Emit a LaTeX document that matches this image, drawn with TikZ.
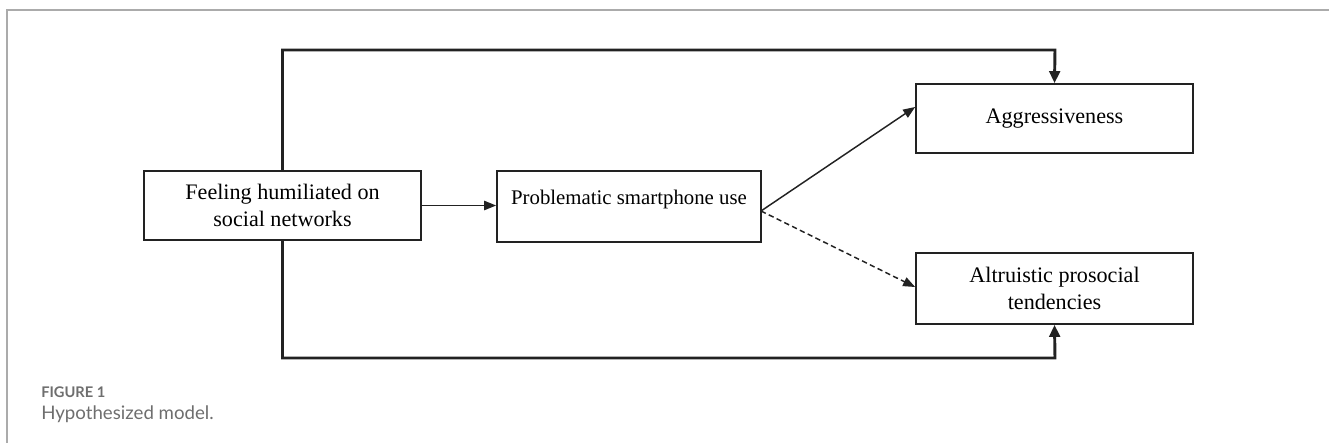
\documentclass[tikz,border=0pt]{standalone}
\usepackage{fontspec}
\setmainfont{Liberation Serif}
\newfontfamily\capfont{Lato}
\usetikzlibrary{arrows.meta}
\definecolor{framegray}{HTML}{ABABAB}
\definecolor{capgray}{HTML}{6E6E6E}
\definecolor{ink}{HTML}{222222}
\begin{document}
\begin{tikzpicture}[x=0.75pt,y=-0.75pt,
  box/.style={draw=ink,line width=1.3pt,rectangle,inner sep=0pt,align=center,font=\fontsize{16.6}{20.5}\selectfont},
  thin/.style={draw=ink,line width=1.1pt,-{Triangle[length=9pt,width=7pt]}},
  thick/.style={draw=ink,line width=2.2pt,-{Triangle[length=9pt,width=8pt]}},
  figlabel/.style={anchor=base west,inner sep=0pt,text=capgray,font=\fontsize{11}{13}\selectfont\capfont\bfseries},
  captext/.style={anchor=base west,inner sep=0pt,text=capgray,font=\fontsize{14}{16}\selectfont\capfont}]
\useasboundingbox (0,0) rectangle (1329,443);
\draw[framegray,line width=1.2pt] (7,443) -- (7,10) -- (1329,10);
% boxes
\node[box,minimum width=277*0.75pt,minimum height=69*0.75pt] (feel) at (282.5,205.5) {Feeling humiliated on\\social networks};
\node[box,minimum width=264*0.75pt,minimum height=71*0.75pt] (prob) at (629,206.5) {};
\node[font=\fontsize{15.6}{20}\selectfont] (probtxt) at (629,199) {Problematic smartphone use};
\node[box,minimum width=277*0.75pt,minimum height=69*0.75pt] (aggr) at (1054.5,118.5) {Aggressiveness};
\node[box,minimum width=277*0.75pt,minimum height=71*0.75pt] (altr) at (1054.5,288.5) {Altruistic prosocial\\tendencies};
% connectors
\coordinate (src) at (761,211);
\draw[thin] (feel.east) -- (feel.east -| prob.west);
\draw[thin] (src) -- (aggr.west|-0,107);
\draw[thin,dash pattern=on 4pt off 2.5pt] (src) -- (altr.west|-0,287);
\draw[thick] (feel.north) |- (1055,50) -- (aggr.north);
\draw[thick] (feel.south) |- (1055,358) -- (altr.south);
% caption
\node[figlabel] (fig) at (41,397) {FIGURE 1};
\node[captext] (cap) at (41,419) {Hypothesized model.};
\end{tikzpicture}
\end{document}
